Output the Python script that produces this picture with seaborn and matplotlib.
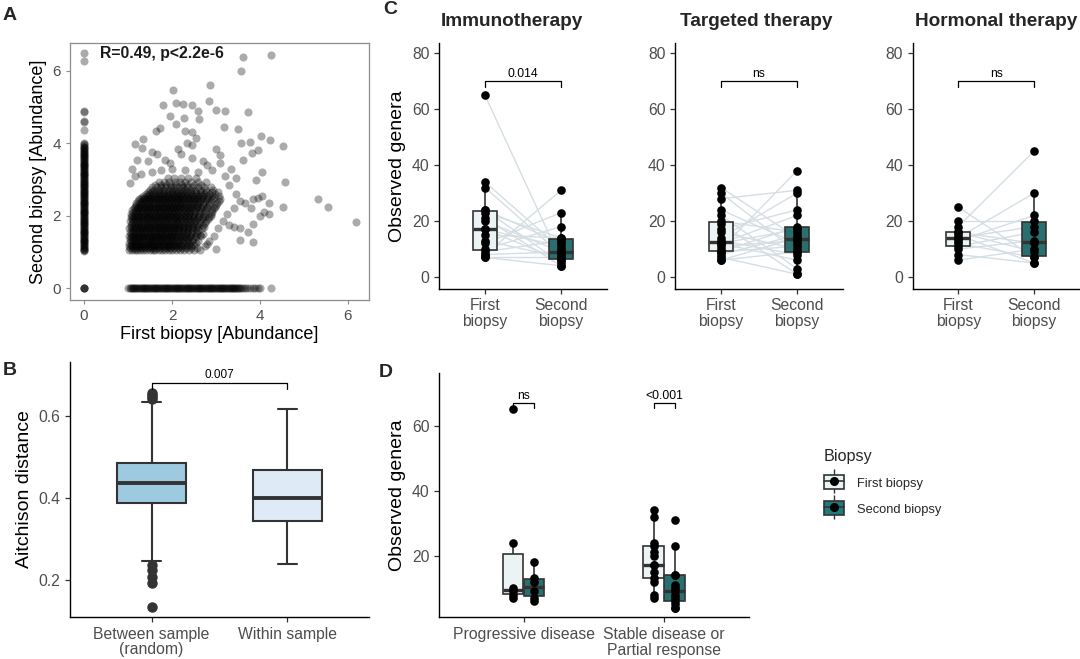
import numpy as np
import pandas as pd
import matplotlib
matplotlib.use("Agg")
import matplotlib.pyplot as plt
import seaborn as sns
from matplotlib.patches import Patch
from matplotlib.lines import Line2D
from matplotlib.legend_handler import HandlerTuple

sns.set_theme(style="ticks")
plt.rcParams['font.family'] = ['Liberation Sans', 'DejaVu Sans']

# ---------------- Panel A data (log abundance, first vs second biopsy) ----------------
# taxa absent from the first biopsy (x = 0)
a_col_y = [1.01, 1.04, 1.06, 1.09, 1.11, 1.14, 1.16, 1.19, 1.21, 1.24, 1.26, 1.29, 1.31, 1.34,
           1.36, 1.39, 1.41, 1.44, 1.46, 1.49, 1.51, 1.54, 1.56, 1.59, 1.61, 1.64, 1.66, 1.69,
           1.71, 1.74, 1.76, 1.79, 1.81, 1.84, 1.86, 1.89, 1.91, 1.94, 1.96, 1.99, 2.01, 2.04,
           2.06, 2.09, 2.11, 2.14, 2.16, 2.19, 2.21, 2.24, 2.26, 2.29, 2.31, 2.34, 2.36, 2.39,
           2.41, 2.44, 2.46, 2.49, 2.51, 2.54, 2.56, 2.59, 2.61, 2.64, 2.66, 2.69, 2.71, 2.74,
           2.76, 2.79, 2.81, 2.84, 2.86, 2.89, 2.91, 2.94, 2.96, 2.99, 3.01, 3.04, 3.06, 3.09,
           3.11, 3.14, 3.16, 3.19, 3.21, 3.24, 3.26, 3.29, 3.31, 3.34, 3.36, 3.39, 3.41, 3.44,
           3.46, 3.49, 3.51, 3.54, 3.56, 3.59, 3.61, 3.64, 3.66, 3.69, 3.71, 3.74, 3.76, 3.79,
           3.81, 3.84, 3.86, 3.89, 3.91, 3.94, 3.98, 4.02, 4.38, 4.58, 4.62, 4.85, 4.88, 6.28,
           6.48, 0.0, 0.0, 0.0, 0.0]
# taxa absent from the second biopsy (y = 0)
a_row_x = [1.01, 1.04, 1.06, 1.09, 1.11, 1.14, 1.16, 1.19, 1.21, 1.24, 1.26, 1.29, 1.31, 1.34,
           1.36, 1.39, 1.41, 1.44, 1.46, 1.49, 1.51, 1.54, 1.56, 1.59, 1.61, 1.64, 1.66, 1.69,
           1.71, 1.74, 1.76, 1.79, 1.81, 1.84, 1.86, 1.89, 1.91, 1.94, 1.96, 1.99, 2.01, 2.04,
           2.06, 2.09, 2.11, 2.14, 2.16, 2.19, 2.21, 2.24, 2.26, 2.29, 2.31, 2.34, 2.36, 2.39,
           2.41, 2.44, 2.46, 2.49, 2.51, 2.54, 2.56, 2.59, 2.61, 2.64, 2.66, 2.69, 2.71, 2.74,
           2.76, 2.79, 2.81, 2.84, 2.86, 2.89, 2.91, 2.94, 2.96, 2.99, 3.01, 3.04, 3.06, 3.09,
           3.11, 3.14, 3.16, 3.19, 3.21, 3.24, 3.26, 3.29, 3.31, 3.34, 3.36, 3.39, 3.41, 3.44,
           3.46, 3.49, 3.51, 3.54, 3.57, 3.62, 3.66, 3.71, 3.78, 3.84, 3.88, 3.95, 4.00, 4.25]
# dense cloud of taxa present in both biopsies (rows of y with their x values)
a_core_y = [1.06, 1.10, 1.15, 1.20, 1.25, 1.30, 1.35, 1.40, 1.45, 1.50, 1.55, 1.60, 1.65, 1.70,
            1.75, 1.80, 1.85, 1.90, 1.95, 2.00, 2.05, 2.10, 2.15, 2.20, 2.25, 2.30, 2.35, 2.40,
            2.45, 2.50, 2.55, 2.60, 2.65, 2.71, 2.78, 2.85, 2.92, 3.05]
a_core_x = [
    [1.02, 1.08, 1.15, 1.21, 1.28, 1.35, 1.41, 1.49, 1.56, 1.62, 1.70, 1.77, 1.85, 1.93, 2.01, 2.10, 2.18, 2.27, 2.38, 2.50, 2.63],
    [1.05, 1.12, 1.18, 1.25, 1.32, 1.38, 1.45, 1.52, 1.59, 1.66, 1.73, 1.81, 1.88, 1.96, 2.05, 2.14, 2.22, 2.32, 2.44, 2.56],
    [1.03, 1.10, 1.17, 1.24, 1.31, 1.38, 1.46, 1.53, 1.60, 1.68, 1.75, 1.83, 1.90, 1.98, 2.06, 2.14, 2.23, 2.33, 2.44],
    [1.06, 1.13, 1.20, 1.27, 1.34, 1.42, 1.49, 1.56, 1.64, 1.71, 1.79, 1.86, 1.94, 2.02, 2.10, 2.18, 2.28, 2.38, 2.50],
    [1.02, 1.09, 1.16, 1.23, 1.30, 1.38, 1.45, 1.52, 1.60, 1.67, 1.74, 1.82, 1.90, 1.97, 2.05, 2.13, 2.22, 2.31, 2.42, 2.55],
    [1.06, 1.13, 1.20, 1.27, 1.34, 1.42, 1.49, 1.56, 1.64, 1.71, 1.78, 1.86, 1.94, 2.01, 2.09, 2.17, 2.26, 2.36, 2.46, 2.58],
    [1.04, 1.11, 1.18, 1.26, 1.33, 1.40, 1.48, 1.55, 1.62, 1.70, 1.78, 1.85, 1.93, 2.01, 2.09, 2.18, 2.27, 2.37, 2.48],
    [1.07, 1.14, 1.22, 1.29, 1.37, 1.44, 1.52, 1.59, 1.66, 1.74, 1.82, 1.89, 1.97, 2.05, 2.13, 2.22, 2.31, 2.42, 2.54],
    [1.03, 1.10, 1.18, 1.25, 1.33, 1.41, 1.49, 1.57, 1.65, 1.72, 1.80, 1.88, 1.95, 2.03, 2.11, 2.20, 2.29, 2.40, 2.52, 2.66],
    [1.07, 1.14, 1.22, 1.29, 1.37, 1.45, 1.53, 1.61, 1.69, 1.76, 1.84, 1.92, 1.99, 2.07, 2.15, 2.24, 2.33, 2.44, 2.57, 2.70],
    [1.05, 1.12, 1.20, 1.28, 1.36, 1.44, 1.52, 1.60, 1.68, 1.75, 1.83, 1.91, 1.99, 2.07, 2.15, 2.24, 2.33, 2.43, 2.55],
    [1.09, 1.16, 1.24, 1.32, 1.40, 1.48, 1.56, 1.64, 1.72, 1.79, 1.87, 1.95, 2.03, 2.11, 2.19, 2.28, 2.37, 2.47, 2.59],
    [1.03, 1.11, 1.19, 1.27, 1.35, 1.43, 1.51, 1.59, 1.67, 1.75, 1.83, 1.91, 1.99, 2.07, 2.15, 2.24, 2.33, 2.43, 2.54, 2.68],
    [1.07, 1.15, 1.23, 1.31, 1.39, 1.47, 1.55, 1.63, 1.71, 1.79, 1.87, 1.95, 2.03, 2.11, 2.19, 2.28, 2.37, 2.47, 2.58, 2.72],
    [1.06, 1.14, 1.22, 1.30, 1.38, 1.46, 1.54, 1.62, 1.70, 1.78, 1.86, 1.94, 2.02, 2.10, 2.18, 2.27, 2.36, 2.46, 2.57, 2.70],
    [1.10, 1.18, 1.26, 1.34, 1.42, 1.50, 1.58, 1.66, 1.74, 1.82, 1.90, 1.98, 2.06, 2.14, 2.22, 2.31, 2.40, 2.50, 2.61, 2.74],
    [1.04, 1.12, 1.20, 1.28, 1.36, 1.44, 1.52, 1.60, 1.68, 1.76, 1.84, 1.92, 2.00, 2.08, 2.16, 2.25, 2.34, 2.43, 2.53, 2.64, 2.78],
    [1.08, 1.16, 1.24, 1.32, 1.40, 1.48, 1.56, 1.64, 1.72, 1.80, 1.88, 1.96, 2.04, 2.12, 2.20, 2.29, 2.38, 2.47, 2.57, 2.68, 2.82],
    [1.06, 1.14, 1.22, 1.30, 1.38, 1.46, 1.54, 1.62, 1.70, 1.78, 1.86, 1.94, 2.02, 2.10, 2.19, 2.28, 2.37, 2.47, 2.58, 2.70, 2.85],
    [1.10, 1.18, 1.26, 1.34, 1.42, 1.50, 1.58, 1.66, 1.74, 1.82, 1.90, 1.98, 2.06, 2.14, 2.23, 2.32, 2.41, 2.51, 2.62, 2.74, 2.89],
    [1.07, 1.15, 1.23, 1.31, 1.39, 1.47, 1.55, 1.63, 1.71, 1.79, 1.87, 1.95, 2.03, 2.11, 2.20, 2.29, 2.38, 2.48, 2.59, 2.72, 2.88],
    [1.11, 1.19, 1.27, 1.35, 1.43, 1.51, 1.59, 1.67, 1.75, 1.83, 1.91, 1.99, 2.07, 2.15, 2.24, 2.33, 2.42, 2.52, 2.63, 2.76, 2.92],
    [1.10, 1.18, 1.26, 1.34, 1.42, 1.50, 1.58, 1.66, 1.74, 1.82, 1.90, 1.98, 2.06, 2.14, 2.23, 2.32, 2.41, 2.51, 2.62, 2.75, 2.92],
    [1.14, 1.22, 1.30, 1.38, 1.46, 1.54, 1.62, 1.70, 1.78, 1.86, 1.94, 2.02, 2.10, 2.18, 2.27, 2.36, 2.45, 2.55, 2.66, 2.79, 2.96],
    [1.15, 1.23, 1.31, 1.39, 1.47, 1.55, 1.63, 1.71, 1.79, 1.87, 1.95, 2.03, 2.11, 2.19, 2.28, 2.37, 2.46, 2.56, 2.67, 2.80, 2.97],
    [1.19, 1.27, 1.35, 1.43, 1.51, 1.59, 1.67, 1.75, 1.83, 1.91, 1.99, 2.07, 2.15, 2.23, 2.32, 2.41, 2.50, 2.60, 2.71, 2.84, 3.01],
    [1.19, 1.27, 1.35, 1.43, 1.51, 1.59, 1.67, 1.75, 1.83, 1.91, 1.99, 2.07, 2.15, 2.23, 2.32, 2.41, 2.50, 2.60, 2.71, 2.85, 3.02],
    [1.23, 1.31, 1.39, 1.47, 1.55, 1.63, 1.71, 1.79, 1.87, 1.95, 2.03, 2.11, 2.19, 2.27, 2.36, 2.45, 2.54, 2.64, 2.75, 2.89, 3.06],
    [1.25, 1.33, 1.41, 1.49, 1.57, 1.65, 1.73, 1.81, 1.89, 1.97, 2.05, 2.13, 2.21, 2.29, 2.38, 2.47, 2.56, 2.66, 2.78, 2.92, 3.10],
    [1.29, 1.37, 1.45, 1.53, 1.61, 1.69, 1.77, 1.85, 1.93, 2.01, 2.09, 2.17, 2.25, 2.33, 2.42, 2.51, 2.60, 2.70, 2.82, 2.96],
    [1.35, 1.43, 1.51, 1.59, 1.67, 1.75, 1.83, 1.91, 1.99, 2.07, 2.15, 2.23, 2.31, 2.40, 2.49, 2.58, 2.68, 2.79, 2.92, 3.08],
    [1.40, 1.48, 1.56, 1.64, 1.72, 1.80, 1.88, 1.96, 2.04, 2.12, 2.20, 2.28, 2.36, 2.45, 2.54, 2.63, 2.73, 2.84, 2.97],
    [1.45, 1.54, 1.63, 1.72, 1.81, 1.90, 1.99, 2.08, 2.17, 2.26, 2.35, 2.44, 2.54, 2.65, 2.77, 2.90, 3.05],
    [1.50, 1.60, 1.70, 1.80, 1.90, 2.00, 2.10, 2.20, 2.30, 2.40, 2.51, 2.63, 2.77, 2.93],
    [1.55, 1.65, 1.75, 1.85, 1.95, 2.05, 2.15, 2.25, 2.35, 2.46, 2.58, 2.72, 2.88],
    [1.62, 1.74, 1.86, 1.98, 2.10, 2.22, 2.35, 2.50, 2.66],
    [1.70, 1.82, 1.94, 2.06, 2.18, 2.30, 2.44, 2.60, 2.78],
    [1.90, 2.05, 2.20, 2.36, 2.55],
]
# scattered taxa around the cloud
a_sparse_x = [1.30, 1.55, 1.75, 2.00, 2.30, 2.60, 2.90, 3.20, 3.35, 3.45, 3.30, 3.45, 3.55, 3.40, 3.25,
              3.15, 3.05, 2.95, 2.85, 2.75, 3.00, 2.79, 2.64, 3.55, 3.72, 3.85, 3.85, 3.55, 3.40, 3.30,
              3.65, 3.80, 3.85, 3.95, 4.05, 4.00, 4.10, 4.20, 4.20, 4.53, 5.33, 5.55, 6.18, 3.92, 4.57,
              4.04, 3.62, 3.81, 3.95, 3.58, 3.77, 4.02, 4.23, 4.52, 3.09, 3.00, 2.13, 1.16, 1.31, 1.35,
              1.55, 1.65, 1.20, 1.45, 1.10, 1.05, 1.15, 1.85, 2.45, 2.70, 2.35, 2.45, 2.55, 2.30, 2.45,
              1.64, 1.73, 2.10, 2.27, 1.95, 2.62, 3.18, 3.50, 3.73, 3.20, 3.00, 2.60, 2.46, 2.09, 2.25,
              1.80, 2.83, 2.02, 2.86, 3.56, 3.62, 4.24, 2.20, 2.80, 3.10, 1.95]
a_sparse_y = [3.15, 3.20, 3.25, 3.30, 3.25, 3.20, 3.25, 3.10, 3.30, 3.05, 2.85, 2.60, 2.40, 2.20, 2.05,
              1.85, 1.65, 1.45, 1.30, 1.15, 1.07, 1.21, 1.46, 1.34, 1.56, 1.28, 1.77, 1.65, 1.70, 1.75,
              2.35, 2.20, 2.45, 2.50, 2.55, 2.00, 2.10, 2.05, 2.35, 2.23, 2.47, 2.23, 1.83, 2.98, 2.94,
              3.20, 3.54, 3.74, 3.81, 4.01, 4.04, 4.20, 4.08, 3.93, 3.67, 3.84, 3.83, 3.98, 3.88, 4.13,
              3.75, 3.70, 3.55, 3.50, 3.30, 2.90, 3.10, 3.55, 3.60, 3.50, 4.00, 3.95, 4.15, 4.35, 4.30,
              4.34, 4.43, 4.53, 4.71, 4.74, 4.68, 4.44, 4.39, 4.87, 4.90, 4.92, 4.90, 5.05, 5.10, 5.08,
              5.07, 5.17, 5.47, 5.61, 5.99, 6.39, 6.45, 3.70, 3.40, 3.45, 3.45]
a_label = "R=0.49, p<2.2e-6"

# ---------------- Panel B data (box summaries of Aitchison distance) ----------------
b_groups = ["Between sample\n(random)", "Within sample"]
b_q1 = [0.387, 0.343]
b_median = [0.437, 0.401]
b_q3 = [0.485, 0.469]
b_whislo = [0.246, 0.240]
b_whishi = [0.632, 0.617]
b_fliers = [[0.640, 0.645, 0.650, 0.654, 0.237, 0.225, 0.209, 0.193, 0.136], []]
b_colors = ["#9ECAE1", "#DEEBF7"]
b_pval = "0.007"

# ---------------- Panel C / D data (observed genera, paired per patient) ----------------
biopsy_levels = ["First biopsy", "Second biopsy"]
biopsy_ticklabels = ["First\nbiopsy", "Second\nbiopsy"]
biopsy_colors = ["#EAF4F6", "#1F7A7A"]

imm_first = [65, 24, 10, 9, 8, 7, 34, 32, 24, 23, 21, 20, 17, 17, 15, 13, 12, 8, 7]
imm_second = [6, 12, 18, 13, 9, 7, 10, 8, 5, 14, 4, 9, 11, 6, 14, 7, 23, 31, 4]
imm_response = ["Progressive disease"] * 6 + ["Stable disease or\nPartial response"] * 13

tar_first = [32, 30, 28, 24, 22, 20, 19, 17, 16, 14, 13, 12, 12, 12, 11, 10, 9, 9, 8, 7, 6, 6]
tar_second = [14, 9, 31, 12, 3, 16, 1, 24, 10, 30, 8, 17, 6, 22, 13, 38, 18, 11, 15, 1, 9, 14]

hor_first = [25, 20, 18, 16, 16, 15, 14, 14, 13, 12, 11, 10, 8, 6]
hor_second = [7, 20, 45, 9, 12, 5, 18, 30, 22, 7, 16, 13, 5, 10]

therapies = ["Immunotherapy", "Targeted therapy", "Hormonal therapy"]
therapy_pvals = ["0.014", "ns", "ns"]
response_levels = ["Progressive disease", "Stable disease or\nPartial response"]
response_pvals = ["ns", "<0.001"]

# ---------------- figure ----------------
W, H = 1080, 659
fig = plt.figure(figsize=(W / 100, H / 100), dpi=100)


def add_ax(l, r, t, b):
    return fig.add_axes([l / W, 1 - b / H, (r - l) / W, (b - t) / H])


EDGE = "#333333"
TICKLAB = "#4D4D4D"
LINEC = "#D5DEE3"


def style_classic(ax, labelsize=11.3):
    for s in ["top", "right"]:
        ax.spines[s].set_visible(False)
    for s in ["left", "bottom"]:
        ax.spines[s].set_color("black")
        ax.spines[s].set_linewidth(1.0)
    ax.tick_params(axis="both", colors=EDGE, labelcolor=TICKLAB, labelsize=labelsize,
                   length=3.5, width=0.9, direction="out", bottom=True, left=True)
    ax.grid(False)


# ---- Panel A ----
axA = add_ax(70, 369, 43, 300)
a_x = [0.0] * len(a_col_y) + list(a_row_x) + list(a_sparse_x)
a_y = list(a_col_y) + [0.0] * len(a_row_x) + list(a_sparse_y)
for yy, xs in zip(a_core_y, a_core_x):
    a_x += xs
    a_y += [yy] * len(xs)
dfA = pd.DataFrame({"first": a_x, "second": a_y})
sns.scatterplot(data=dfA, x="first", y="second", color="black", alpha=0.33, s=34,
                linewidth=0, ax=axA)
axA.set_xlim(-0.32, 6.48)
axA.set_ylim(-0.33, 6.77)
axA.set_xticks([0, 2, 4, 6])
axA.set_yticks([0, 2, 4, 6])
for s in axA.spines.values():
    s.set_visible(True)
    s.set_color("#8C8C8C")
    s.set_linewidth(0.9)
axA.tick_params(axis="both", colors="#8C8C8C", labelcolor=TICKLAB, labelsize=11,
                length=3, width=0.8, bottom=True, left=True)
axA.set_xlabel("First biopsy [Abundance]", fontsize=13, color="black", labelpad=2)
axA.set_ylabel("Second biopsy [Abundance]", fontsize=13, color="black", labelpad=4)
axA.text(0.36, 6.49, a_label, fontsize=11.3, fontweight="bold", va="center", ha="left",
         color="#1A1A1A")

# ---- Panel B ----
axB = add_ax(70, 369, 362, 617)
stats = []
for i in range(2):
    stats.append(dict(med=b_median[i], q1=b_q1[i], q3=b_q3[i], whislo=b_whislo[i],
                      whishi=b_whishi[i], fliers=b_fliers[i], label=b_groups[i]))
bp = axB.bxp(stats, positions=[0, 1], widths=0.505, capwidths=0.146, patch_artist=True,
             boxprops=dict(edgecolor=EDGE, linewidth=1.5),
             medianprops=dict(color=EDGE, linewidth=2.8),
             whiskerprops=dict(color=EDGE, linewidth=1.5),
             capprops=dict(color=EDGE, linewidth=1.5),
             flierprops=dict(marker="o", markerfacecolor=EDGE, markeredgecolor=EDGE,
                             markersize=6.5, linestyle="none"))
for patch, c in zip(bp["boxes"], b_colors):
    patch.set_facecolor(c)
axB.set_xlim(-0.6, 1.6)
axB.set_ylim(0.111, 0.730)
axB.set_yticks([0.2, 0.4, 0.6])
axB.set_yticklabels(["0.2", "0.4", "0.6"])
axB.set_xticks([0, 1])
axB.set_xticklabels(b_groups, linespacing=1.05)
style_classic(axB)
axB.set_ylabel("Aitchison distance", fontsize=14, color="black")
axB.plot([0, 0, 1, 1], [0.665, 0.679, 0.679, 0.665], color="black", lw=0.9)
axB.text(0.5, 0.683, b_pval, ha="center", va="bottom", fontsize=8.5, color="black")

# ---- Panel C ----
c_bounds = [(439.3, 606.7), (675.3, 842.7), (912.7, 1079.5)]
c_title_x = [512, 756, 996]
c_data = [(imm_first, imm_second), (tar_first, tar_second), (hor_first, hor_second)]
for k in range(3):
    l, r = c_bounds[k]
    ax = add_ax(l, r, 42.7, 288.7)
    f, s2 = c_data[k]
    n = len(f)
    df = pd.DataFrame({
        "pos": [0.0] * n + [1.0] * n,
        "biopsy": [biopsy_levels[0]] * n + [biopsy_levels[1]] * n,
        "value": list(f) + list(s2),
        "patient": list(range(n)) * 2,
    })
    sns.boxplot(data=df, x="pos", y="value", hue="biopsy", hue_order=biopsy_levels,
                palette=biopsy_colors, native_scale=True, dodge=False, width=0.32,
                showfliers=False, showcaps=False, linecolor=EDGE, linewidth=1.2,
                medianprops=dict(linewidth=2.4), legend=False, ax=ax)
    sns.lineplot(data=df, x="pos", y="value", units="patient", estimator=None,
                 color=LINEC, lw=1.0, zorder=1, legend=False, ax=ax)
    sns.stripplot(data=df, x="pos", y="value", native_scale=True, jitter=False,
                  color="black", size=6.2, linewidth=0, zorder=4, ax=ax)
    ax.set_xlim(-0.6, 1.6)
    ax.set_ylim(-4.2, 83.8)
    ax.set_yticks([0, 20, 40, 60, 80])
    ax.set_xticks([0, 1])
    ax.set_xticklabels(biopsy_ticklabels, linespacing=1.05)
    style_classic(ax)
    ax.set_xlabel("")
    if k == 0:
        ax.set_ylabel("Observed genera", fontsize=14, color="black")
    else:
        ax.set_ylabel("")
    ax.plot([0, 0, 1, 1], [67.8, 70.1, 70.1, 67.8], color="black", lw=0.9)
    ax.text(0.5, 70.6, therapy_pvals[k], ha="center", va="bottom", fontsize=8.7,
            color="black")
    fig.text(c_title_x[k] / W, 1 - 22 / H, therapies[k], ha="center", va="center",
             fontsize=13.7, fontweight="bold")

# ---- Panel D ----
axD = add_ax(439.3, 748.5, 373.3, 617.3)
resp_idx = {lvl: i for i, lvl in enumerate(response_levels)}
dodge_off = {biopsy_levels[0]: -0.075, biopsy_levels[1]: 0.075}
nD = len(imm_first)
d_biopsy = [biopsy_levels[0]] * nD + [biopsy_levels[1]] * nD
d_resp = imm_response * 2
dfD = pd.DataFrame({
    "biopsy": d_biopsy,
    "response": d_resp,
    "value": imm_first + imm_second,
})
dfD["pos"] = [resp_idx[rr] + dodge_off[bb] for rr, bb in zip(d_resp, d_biopsy)]
sns.boxplot(data=dfD, x="pos", y="value", hue="biopsy", hue_order=biopsy_levels,
            palette=biopsy_colors, native_scale=True, dodge=False, width=0.98,
            showfliers=False, showcaps=False, linecolor=EDGE, linewidth=1.2,
            medianprops=dict(linewidth=2.4), legend=False, ax=axD)
sns.stripplot(data=dfD, x="pos", y="value", native_scale=True, jitter=False,
              color="black", size=6.2, linewidth=0, zorder=4, ax=axD)
axD.set_xlim(-0.6, 1.6)
axD.set_ylim(1.05, 76.1)
axD.set_yticks([20, 40, 60])
axD.set_xticks([0, 1])
axD.set_xticklabels(response_levels, linespacing=1.05)
style_classic(axD)
axD.set_xlabel("")
axD.set_ylabel("Observed genera", fontsize=14, color="black")
for i in range(2):
    axD.plot([i - 0.075, i - 0.075, i + 0.075, i + 0.075], [65.4, 67.1, 67.1, 65.4],
             color="black", lw=0.9)
    axD.text(i, 67.4, response_pvals[i], ha="center", va="bottom", fontsize=8.7,
             color="black")

# ---- legend ----
handles = []
for c in biopsy_colors:
    handles.append((Line2D([], [], color=EDGE, lw=1.0, marker="|", markersize=17,
                           markeredgewidth=1.0, linestyle=""),
                    Patch(facecolor=c, edgecolor=EDGE, linewidth=1.2),
                    Line2D([], [], color=EDGE, lw=1.2, linestyle="-"),
                    Line2D([], [], marker="o", markersize=5.5, markerfacecolor="black",
                           markeredgecolor="black", linestyle="")))
leg = fig.legend(handles, biopsy_levels, title="Biopsy", loc="upper left",
                 bbox_to_anchor=(812 / W, 1 - 437 / H), frameon=False, fontsize=9.3,
                 title_fontsize=11.6, handler_map={tuple: HandlerTuple(ndivide=1, pad=0)},
                 handlelength=1.6, handleheight=1.3, labelspacing=0.9, alignment="left",
                 handletextpad=1.0)

# ---- panel letters ----
for letter, (x, y) in zip("ABCD", [(9.5, 15.5), (9.5, 370.5), (390, 10), (386, 372.5)]):
    fig.text(x / W, 1 - y / H, letter, fontsize=14, fontweight="bold", ha="center",
             va="center")

fig.savefig("out.png", dpi=100)
